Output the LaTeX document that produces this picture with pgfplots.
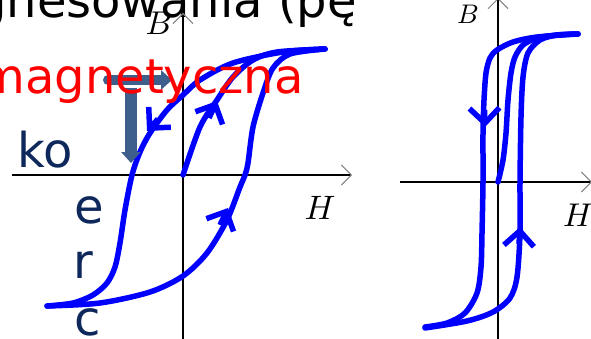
\documentclass[border=0pt]{standalone}
\usepackage{pgfplots}
\pgfplotsset{compat=1.18}
\usetikzlibrary{arrows.meta}
\usepackage{fontspec}
\setmainfont{DejaVu Sans}

\definecolor{loopblue}{RGB}{0,0,255}
\definecolor{slidenavy}{RGB}{14,40,92}
\definecolor{arrowsteel}{RGB}{62,95,140}
\definecolor{tipgray}{RGB}{130,130,130}

\pgfplotsset{
  loopaxis/.style={
    axis lines=middle,
    scale only axis,
    anchor=south west,
    xtick=\empty, ytick=\empty,
    clip=false,
    axis line style={line width=1.6bp, black,
      -{Straight Barb[length=10bp,width=20bp,line width=0.9bp,color=tipgray]}},
  },
  branch/.style={loopblue, line width=5.5bp, line cap=round, smooth, no marks},
  dirarrow/.style={loopblue, line width=5.5bp, no marks,
      -{Straight Barb[length=15bp,width=30bp]}},
}

\begin{document}
\begin{tikzpicture}[x=1bp,y=1bp]
\useasboundingbox (0,0) rectangle (591,338);
\fill[white] (0,0) rectangle (591,338);
\clip (0,0) rectangle (591,338);

% slide text behind the drawing
\begin{scope}[every node/.style={inner sep=0pt, font=\fontsize{48bp}{48bp}\selectfont}]
  \node[anchor=base west, text=slidenavy] at (17.6,171) {ko};
  \node[anchor=base west, text=slidenavy] at (74.5,115) {e};
  \node[anchor=base west, text=slidenavy] at (73,60) {r};
  \node[anchor=base west, text=slidenavy] at (74.5,3) {c};
  \node[anchor=base east, text=black] at (357,321) {magnesowania (pę};
\end{scope}

% soft magnetic material: wide loop
\begin{axis}[loopaxis, at={(12bp,-7bp)}, width=340bp, height=332bp,
  xmin=-1.71, xmax=1.69, ymin=-1.70, ymax=1.62]
  % descending branch
  \addplot[branch] coordinates {
    (1.42,1.26) (1.00,1.23) (0.50,1.12) (0.17,0.95) (0,0.80)
    (-0.16,0.65) (-0.33,0.42) (-0.43,0.23) (-0.51,0) (-0.58,-0.35)
    (-0.63,-0.68) (-0.68,-0.92) (-0.76,-1.08) (-0.90,-1.20)
    (-1.10,-1.28) (-1.36,-1.31)};
  % ascending branch
  \addplot[branch] coordinates {
    (-1.36,-1.31) (-0.83,-1.28) (-0.33,-1.17) (0,-1.01) (0.24,-0.78)
    (0.44,-0.45) (0.57,-0.12) (0.62,0) (0.65,0.12) (0.70,0.48)
    (0.80,0.82) (0.90,1.07) (1.07,1.21) (1.42,1.26)};
  % initial magnetisation curve
  \addplot[branch] coordinates {
    (0,0) (0.17,0.48) (0.34,0.75) (0.50,0.98) (0.70,1.15)
    (0.94,1.23) (1.42,1.26)};
  % direction marks
  \addplot[dirarrow] coordinates {(-0.25,0.56) (-0.36,0.44)};
  \addplot[dirarrow] coordinates {(0.26,0.57) (0.34,0.74)};
  \addplot[dirarrow] coordinates {(0.37,-0.50) (0.45,-0.33)};
\end{axis}

% hard (narrow) loop
\begin{axis}[loopaxis, at={(400bp,-4bp)}, width=192bp, height=344bp,
  xmin=-0.98, xmax=0.94, ymin=-1.60, ymax=1.84]
  \addplot[branch] coordinates {
    (0.80,1.48) (0.39,1.45) (0.15,1.40) (-0.01,1.32) (-0.08,1.24)
    (-0.12,1.09) (-0.14,0.82) (-0.15,0.49) (-0.15,0) (-0.16,-0.51)
    (-0.17,-0.85) (-0.21,-1.11) (-0.33,-1.31) (-0.51,-1.41) (-0.73,-1.45)};
  \addplot[branch] coordinates {
    (-0.73,-1.46) (-0.31,-1.39) (-0.05,-1.30) (0.12,-1.16) (0.19,-0.95)
    (0.22,-0.51) (0.22,0) (0.23,0.65) (0.25,1.05) (0.30,1.29)
    (0.42,1.42) (0.59,1.47) (0.80,1.48)};
  \addplot[branch] coordinates {
    (0,0) (0.05,0.22) (0.08,0.49) (0.10,0.82) (0.13,1.09) (0.17,1.25)
    (0.25,1.37) (0.39,1.44) (0.59,1.47) (0.80,1.48)};
  \addplot[dirarrow] coordinates {(-0.135,0.72) (-0.13,0.55)};
  \addplot[dirarrow] coordinates {(0.21,-0.62) (0.22,-0.45)};
\end{axis}

% axis letters
\node[scale=3.3, inner sep=0pt] at (159,315) {$B$};
\node[scale=3.4, inner sep=0pt] at (320,130) {$H$};
\node[scale=2.7, inner sep=0pt] at (468,324) {$B$};
\node[scale=3.3, inner sep=0pt] at (578,123) {$H$};

% pointer arrows
\draw[arrowsteel, line width=10bp, line cap=round,
      -{Triangle[length=11bp,width=19bp]}] (108,258) -- (172,258);
\draw[arrowsteel, line width=12bp,
      -{Triangle[length=11bp,width=19bp]}] (131,250) -- (131,175);

% red heading word in front
\node[anchor=base east, inner sep=0pt, text=red,
      font=\fontsize{48bp}{48bp}\selectfont] at (304,245) {magnetyczna};
\end{tikzpicture}
\end{document}
